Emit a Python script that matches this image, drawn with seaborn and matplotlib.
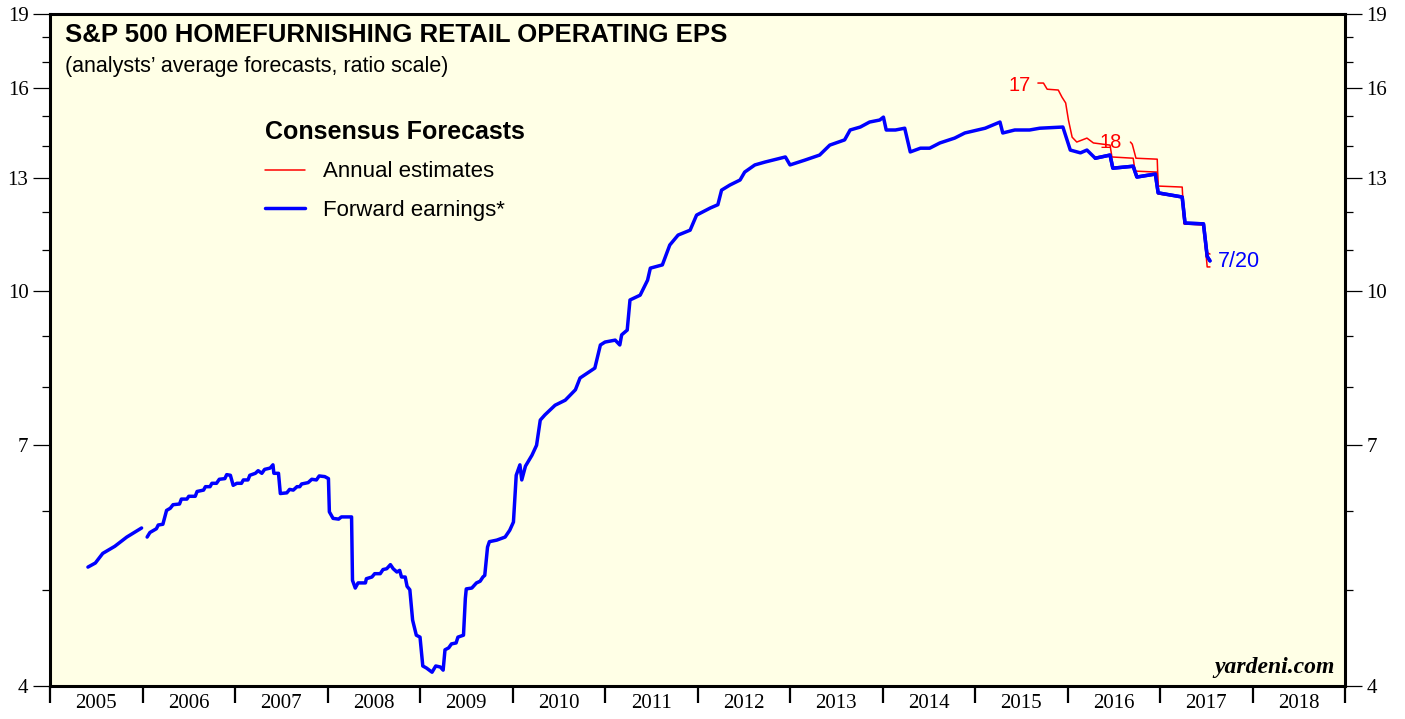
import numpy as np
import pandas as pd
import matplotlib
matplotlib.use("Agg")
import matplotlib.pyplot as plt
import seaborn as sns
from matplotlib.lines import Line2D
from matplotlib.ticker import FixedLocator, NullFormatter

# forward earnings, first stretch (2005)
fwd1_year = [2005.41, 2005.49, 2005.57, 2005.70, 2005.83, 2005.99]
fwd1_eps = [5.27, 5.32, 5.44, 5.53, 5.65, 5.77]

# forward earnings, 2006 onward
fwd2_year = [
    2006.05, 2006.08, 2006.15, 2006.17, 2006.22, 2006.26, 2006.30, 2006.33, 2006.40, 2006.42,
    2006.48, 2006.50, 2006.57, 2006.59, 2006.66, 2006.68, 2006.73, 2006.75, 2006.80, 2006.83,
    2006.89, 2006.91, 2006.95, 2006.98, 2007.02, 2007.07, 2007.09, 2007.14, 2007.16, 2007.22,
    2007.25, 2007.29, 2007.32, 2007.38, 2007.41, 2007.42, 2007.47, 2007.49, 2007.56, 2007.59,
    2007.63, 2007.67, 2007.70, 2007.72, 2007.79, 2007.83, 2007.88, 2007.91, 2007.97, 2008.01,
    2008.02, 2008.06, 2008.12, 2008.15, 2008.26, 2008.27, 2008.30, 2008.33, 2008.41, 2008.42,
    2008.48, 2008.51, 2008.57, 2008.60, 2008.64, 2008.68, 2008.71, 2008.75, 2008.78, 2008.80,
    2008.84, 2008.86, 2008.89, 2008.92, 2008.96, 2009.00, 2009.03, 2009.07, 2009.13, 2009.17,
    2009.22, 2009.25, 2009.27, 2009.31, 2009.34, 2009.39, 2009.41, 2009.47, 2009.49, 2009.50,
    2009.56, 2009.61, 2009.65, 2009.68, 2009.70, 2009.73, 2009.75, 2009.83, 2009.92, 2009.97,
    2010.01, 2010.04, 2010.08, 2010.10, 2010.14, 2010.21, 2010.26, 2010.30, 2010.35, 2010.46,
    2010.57, 2010.68, 2010.73, 2010.89, 2010.95, 2011.00, 2011.11, 2011.16, 2011.18, 2011.24,
    2011.27, 2011.38, 2011.46, 2011.49, 2011.62, 2011.70, 2011.79, 2011.92, 2011.99, 2012.14,
    2012.22, 2012.26, 2012.35, 2012.46, 2012.51, 2012.62, 2012.73, 2012.95, 2013.00, 2013.16,
    2013.32, 2013.43, 2013.59, 2013.65, 2013.76, 2013.86, 2013.97, 2014.01, 2014.04, 2014.14,
    2014.24, 2014.30, 2014.41, 2014.51, 2014.62, 2014.78, 2014.89, 2015.11, 2015.27, 2015.30,
    2015.43, 2015.59, 2015.70, 2015.95, 2016.03, 2016.14, 2016.21, 2016.30, 2016.46, 2016.49,
    2016.71, 2016.75, 2016.95, 2016.98, 2017.24, 2017.27, 2017.47, 2017.51, 2017.54,
]
fwd2_eps = [
    5.65, 5.71, 5.76, 5.81, 5.82, 6.01, 6.04, 6.09, 6.10, 6.17,
    6.17, 6.21, 6.21, 6.28, 6.30, 6.35, 6.35, 6.40, 6.40, 6.46,
    6.47, 6.53, 6.52, 6.37, 6.40, 6.40, 6.45, 6.45, 6.52, 6.55,
    6.59, 6.55, 6.61, 6.63, 6.68, 6.55, 6.55, 6.25, 6.26, 6.31,
    6.30, 6.35, 6.35, 6.39, 6.41, 6.46, 6.45, 6.51, 6.50, 6.47,
    5.99, 5.90, 5.89, 5.92, 5.92, 5.11, 5.02, 5.08, 5.08, 5.13,
    5.15, 5.19, 5.19, 5.24, 5.25, 5.30, 5.25, 5.21, 5.23, 5.15,
    5.15, 5.04, 5.00, 4.66, 4.50, 4.48, 4.19, 4.17, 4.13, 4.19,
    4.18, 4.15, 4.35, 4.37, 4.41, 4.42, 4.48, 4.50, 4.90, 5.01,
    5.02, 5.08, 5.10, 5.15, 5.17, 5.52, 5.59, 5.61, 5.65, 5.74,
    5.85, 6.52, 6.68, 6.45, 6.66, 6.83, 6.99, 7.41, 7.50, 7.67,
    7.76, 7.95, 8.17, 8.36, 8.82, 8.88, 8.92, 8.82, 9.03, 9.13,
    9.79, 9.90, 10.25, 10.54, 10.62, 11.12, 11.38, 11.51, 11.92, 12.12,
    12.21, 12.63, 12.78, 12.93, 13.17, 13.39, 13.48, 13.64, 13.39, 13.54,
    13.70, 14.02, 14.19, 14.52, 14.62, 14.79, 14.86, 14.96, 14.52, 14.52,
    14.58, 13.80, 13.92, 13.92, 14.09, 14.25, 14.42, 14.58, 14.79, 14.42,
    14.52, 14.52, 14.58, 14.62, 13.86, 13.77, 13.86, 13.60, 13.70, 13.29,
    13.35, 13.02, 13.11, 12.55, 12.43, 11.70, 11.68, 10.83, 10.72,
]

# annual estimates for 2017
est17_year = [2015.68, 2015.74, 2015.78, 2015.90, 2015.94, 2015.98, 2016.01, 2016.05, 2016.10, 2016.16,
              2016.21, 2016.28, 2016.46, 2016.48, 2016.71, 2016.73, 2016.97, 2016.98, 2017.24, 2017.26,
              2017.47, 2017.50, 2017.51, 2017.54]
est17_eps = [16.19, 16.19, 15.96, 15.93, 15.67, 15.46, 14.86, 14.28, 14.12, 14.19,
             14.25, 14.09, 14.02, 13.64, 13.60, 13.20, 13.17, 12.52, 12.43, 11.68,
             11.65, 10.83, 10.57, 10.57]

# annual estimates for 2018
est18_year = [2016.68, 2016.70, 2016.74, 2016.97, 2016.98, 2017.24, 2017.26, 2017.47, 2017.50, 2017.54]
est18_eps = [14.12, 14.05, 13.60, 13.57, 12.75, 12.72, 11.70, 11.68, 10.94, 10.89]

years = list(range(2005, 2019))
y_major = [4, 7, 10, 13, 16, 19]
y_minor = [5, 6, 8, 9, 11, 12, 14, 15, 17, 18]

BLUE = "#0000ff"
RED = "#ff0000"
SERIF = ["Liberation Serif", "DejaVu Serif"]

sns.set_style("ticks")
plt.rcParams["font.family"] = ["Liberation Sans", "DejaVu Sans"]
plt.rcParams.update({"text.color": "black", "axes.labelcolor": "black",
                     "xtick.color": "black", "ytick.color": "black", "axes.edgecolor": "black"})

fig = plt.figure(figsize=(14.05, 7.19), dpi=100)
ax = fig.add_axes([0.0356, 0.0459, 0.9217, 0.9346])
ax.set_facecolor("#ffffe6")

sns.lineplot(x=fwd1_year, y=fwd1_eps, ax=ax, color=BLUE, linewidth=2.5, estimator=None, sort=False)
sns.lineplot(x=fwd2_year, y=fwd2_eps, ax=ax, color=BLUE, linewidth=2.5, estimator=None, sort=False)
sns.lineplot(x=est17_year, y=est17_eps, ax=ax, color=RED, linewidth=1.1, estimator=None, sort=False)
sns.lineplot(x=est18_year, y=est18_eps, ax=ax, color=RED, linewidth=1.1, estimator=None, sort=False)
# blue stays on top where the lines overlap
sns.lineplot(x=fwd2_year[-12:], y=fwd2_eps[-12:], ax=ax, color=BLUE, linewidth=2.5, estimator=None, sort=False)

ax.set_yscale("log")
ax.set_ylim(4, 19)
ax.set_xlim(2005, 2019)

# y ticks on both sides
ax.yaxis.set_major_locator(FixedLocator(y_major))
ax.yaxis.set_minor_locator(FixedLocator(y_minor))
ax.yaxis.set_minor_formatter(NullFormatter())
ax.set_yticklabels([str(v) for v in y_major])
ax.tick_params(axis="y", which="major", length=12, width=0.9, direction="out",
               left=True, right=True, labelleft=True, labelright=True, labelsize=15, pad=3.5)
ax.tick_params(axis="y", which="minor", length=6, width=0.9, direction="out", left=True, right=True)

# x ticks at year boundaries, labels at mid-year
ax.xaxis.set_major_locator(FixedLocator(years + [2019]))
ax.xaxis.set_major_formatter(NullFormatter())
ax.xaxis.set_minor_locator(FixedLocator([y + 0.5 for y in years]))
ax.set_xticklabels([str(y) for y in years], minor=True)
ax.tick_params(axis="x", which="major", length=12, width=1.6, direction="out")
ax.tick_params(axis="x", which="minor", length=0, labelsize=15, pad=6)

for lab in ax.get_xticklabels(minor=True) + ax.get_yticklabels():
    lab.set_family(SERIF)

for s in ax.spines.values():
    s.set_visible(True)
    s.set_linewidth(2.2)
    s.set_color("black")

ax.set_xlabel("")
ax.set_ylabel("")
if ax.get_legend():
    ax.get_legend().remove()

# titles
ax.text(0.0116, 0.958, "S&P 500 HOMEFURNISHING RETAIL OPERATING EPS", transform=ax.transAxes,
        fontsize=18.5, fontweight="bold", va="baseline", ha="left")
ax.text(0.0116, 0.914, "(analysts\u2019 average forecasts, ratio scale)", transform=ax.transAxes,
        fontsize=15.5, va="baseline", ha="left")

# legend
handles = [Line2D([], [], color=RED, linewidth=1.1),
           Line2D([], [], color=BLUE, linewidth=2.5)]
leg = ax.legend(handles, ["Annual estimates", "Forward earnings*"], title="Consensus Forecasts",
                loc="upper left", bbox_to_anchor=(0.166, 0.843), frameon=False, fontsize=16,
                borderpad=0, borderaxespad=0, handlelength=1.8, handletextpad=0.8,
                labelspacing=0.8, alignment="left")
leg.get_title().set_fontweight("bold")
leg.get_title().set_fontsize(18)

# series labels
ax.text(2015.48, 16.1, "17", color=RED, fontsize=14.5, ha="center", va="center")
ax.text(2016.47, 14.1, "18", color=RED, fontsize=14.5, ha="center", va="center")
ax.text(2017.63, 10.7, "7/20", color=BLUE, fontsize=15.5, ha="left", va="center")

ax.text(0.992, 0.019, "yardeni.com", transform=ax.transAxes, fontsize=17, fontweight="bold",
        fontstyle="italic", family=SERIF, ha="right", va="baseline")

fig.savefig("out.png", dpi=100, facecolor="white")
